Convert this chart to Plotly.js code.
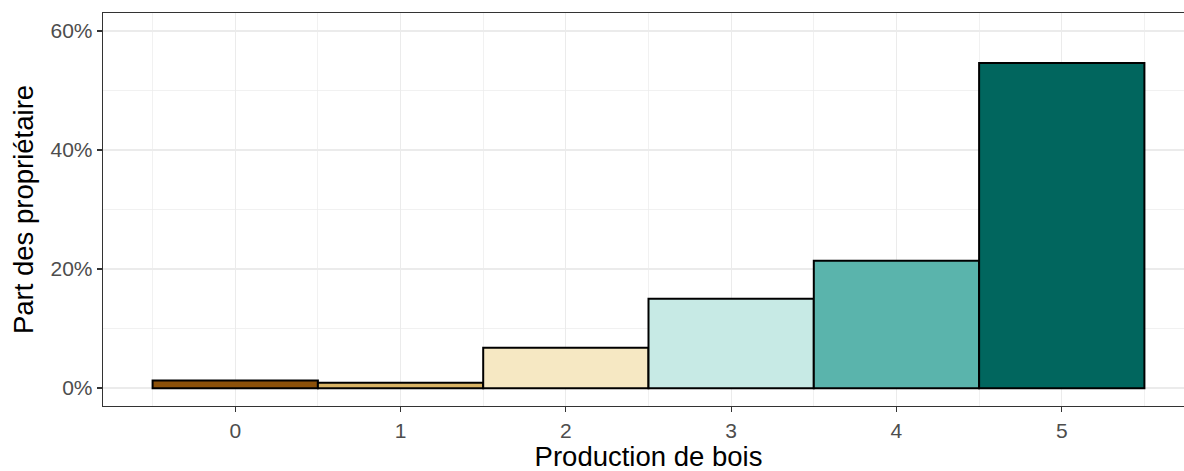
<!DOCTYPE html>
<html>
<head>
<meta charset="utf-8">
<script src="https://cdn.plot.ly/plotly-3.0.1.min.js"></script>
<style>
html, body { margin: 0; padding: 0; overflow: hidden; background: #fff; width: 1184px; height: 471px; }
#chart { width: 1200px; height: 490px; }
</style>
</head>
<body>
<div id="chart"></div>
<script>
const categories = [0, 1, 2, 3, 4, 5];
const shares = [0.013, 0.009, 0.068, 0.150, 0.214, 0.546];
const barColors = ['#8C510A', '#D8B365', '#F6E8C3', '#C7EAE5', '#5AB4AC', '#01665E'];
const yTickVals = [0, 0.2, 0.4, 0.6];
const yTickText = ['0%', '20%', '40%', '60%'];
const xTitle = 'Production de bois';
const yTitle = 'Part des propriétaire';

const trace = {
  type: 'bar',
  x: categories,
  y: shares,
  width: 1,
  marker: { color: barColors, line: { color: '#000000', width: 2 } },
  hoverinfo: 'x+y'
};

const layout = {
  width: 1200,
  height: 490,
  margin: { l: 103, r: 6, t: 13, b: 84 },
  paper_bgcolor: '#ffffff',
  plot_bgcolor: '#ffffff',
  font: { family: 'Liberation Sans, Arial, sans-serif', color: '#000' },
  showlegend: false,
  bargap: 0,
  xaxis: {
    range: [-0.8, 5.8],
    tickmode: 'array',
    tickvals: categories,
    ticktext: categories.map(String),
    ticks: 'outside', ticklen: 5, tickwidth: 1.3, tickcolor: '#333333',
    tickfont: { size: 21, color: '#4D4D4D' },
    showgrid: true, gridcolor: '#EBEBEB', gridwidth: 1.3,
    minor: { tickmode: 'array', tickvals: [-0.5, 0.5, 1.5, 2.5, 3.5, 4.5, 5.5], showgrid: true, gridcolor: '#EBEBEB', gridwidth: 0.7, ticks: '' },
    showline: true, mirror: true, linecolor: '#333333', linewidth: 1.3,
    zeroline: false,
    title: { text: xTitle, font: { size: 27.5, color: '#000' }, standoff: 6 },
    automargin: false
  },
  yaxis: {
    range: [-0.03, 0.63],
    tickmode: 'array',
    tickvals: yTickVals,
    ticktext: yTickText,
    ticks: 'outside', ticklen: 5, tickwidth: 1.3, tickcolor: '#333333',
    tickfont: { size: 21, color: '#4D4D4D' },
    showgrid: true, gridcolor: '#EBEBEB', gridwidth: 1.3,
    minor: { tickmode: 'array', tickvals: [0.1, 0.3, 0.5], showgrid: true, gridcolor: '#EBEBEB', gridwidth: 0.7, ticks: '' },
    showline: true, mirror: true, linecolor: '#333333', linewidth: 1.3,
    zeroline: false,
    title: { text: yTitle, font: { size: 27.5, color: '#000' }, standoff: 8 },
    automargin: false
  }
};

Plotly.newPlot('chart', [trace], layout, { displayModeBar: false, staticPlot: true });
</script>
</body>
</html>
